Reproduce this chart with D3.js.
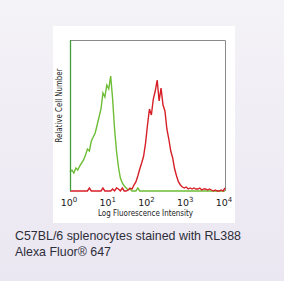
<!DOCTYPE html>
<html>
<head>
<meta charset="utf-8">
<script src="https://cdn.jsdelivr.net/npm/d3@7"></script>
<style>
  body { margin: 0; }
</style>
</head>
<body>
<script>
// histogram counts, one per channel, channels every 0.05 decade from 10^0 to 10^4
var greenCounts = [19,21,18,23,21,25,28,31,36,42,40,50,54,58,66,74,82,98,94,106,102,115,92,62,40,24,13,8,5,3,1,2,0,
  0,0,3,0,0,0,0,0,0,0,0,0,0,0,0,0,0,0,0,0,0,0,0,0,0,0,0,0,0,0,0,0,0,0,0,0,0,0,0,0,0,0,0,0,0,0,0,0];
var redCounts = [0,0,0,0,0,0,0,0,0,0,3,0,0,0,0,0,0,3,0,0,0,0,2,0,3,2,0,3,0,
  0,1,3,2,6,9,15,22,28,35,48,66,82,76,92,100,111,90,103,86,80,62,52,40,33,22,15,9,6,4,
  3,4,2,3,2,3,2,2,3,1,2,2,1,2,1,0,1,0,0,1,0,3];
var tickExponents = ["0", "1", "2", "3", "4"];
var xTitle = "Log Fluorescence Intensity";
var yTitle = "Relative Cell Number";
var captionLines = ["C57BL/6 splenocytes stained with RL388", "Alexa Fluor\u00ae 647"];

var W = 284, H = 281;
var margin = {top: 40, right: 59, bottom: 90, left: 70},
    width = W - margin.left - margin.right,
    height = H - margin.top - margin.bottom;

var channels = d3.range(greenCounts.length).map(function(i) { return Math.pow(10, i * 0.05); });

var x = d3.scaleLog().domain([1, 1e4]).range([0, width]);
var y = d3.scaleLinear().domain([0, 151]).range([height, 0]);

var svg = d3.select("body").append("svg")
    .attr("width", W)
    .attr("height", H);

var defs = svg.append("defs");
var grad = defs.append("linearGradient")
    .attr("id", "bg").attr("x1", 0).attr("y1", 0).attr("x2", 0).attr("y2", 1);
grad.append("stop").attr("offset", "0%").attr("stop-color", "#f4f3f7");
grad.append("stop").attr("offset", "100%").attr("stop-color", "#ebe7f2");

svg.append("rect").attr("width", W).attr("height", H).attr("fill", "url(#bg)");

// white panel behind the plot
svg.append("rect")
    .attr("x", 53).attr("y", 26)
    .attr("width", 182).attr("height", 197)
    .attr("fill", "#ffffff");

var main = svg.append("g")
    .attr("transform", "translate(" + margin.left + "," + margin.top + ")");

// frame: grey top/right
main.append("path")
    .attr("d", "M0,0.5H" + (width + 0.5) + "V" + height)
    .attr("fill", "none")
    .attr("stroke", "#8a8a8a")
    .attr("stroke-width", 1);

var line = d3.line()
    .x(function(d, i) { return x(channels[i]); })
    .y(function(d) { return y(d); });

main.append("path")
    .datum(greenCounts)
    .attr("d", line)
    .attr("fill", "none")
    .attr("stroke", "#6dbd35")
    .attr("stroke-width", 1.4);

main.append("path")
    .datum(redCounts)
    .attr("d", line)
    .attr("fill", "none")
    .attr("stroke", "#d61f27")
    .attr("stroke-width", 1.4);

// left axis line (green)
main.append("line")
    .attr("x1", 0.5).attr("x2", 0.5)
    .attr("y1", 0).attr("y2", height)
    .attr("stroke", "#3f9e3a")
    .attr("stroke-width", 1.3);

// x tick labels 10^n
var ticks = main.append("g").attr("transform", "translate(0," + (height + 15) + ")");
var tl = ticks.selectAll("text")
    .data(tickExponents)
    .enter().append("text")
    .attr("x", function(d) { return x(Math.pow(10, +d)) - 1; })
    .attr("text-anchor", "middle")
    .style("font-family", "DejaVu Sans, sans-serif")
    .style("font-size", "9.5px")
    .attr("fill", "#1a1a1a");
tl.append("tspan").text("10");
tl.append("tspan").attr("dy", -4).style("font-size", "7px").text(function(d) { return d; });

main.append("text")
    .attr("x", width / 2 - 2)
    .attr("y", height + 25)
    .attr("text-anchor", "middle")
    .attr("textLength", 95)
    .attr("lengthAdjust", "spacingAndGlyphs")
    .style("font-family", "DejaVu Sans, sans-serif")
    .style("font-size", "8.5px")
    .attr("fill", "#1a1a1a")
    .text(xTitle);

main.append("text")
    .attr("transform", "translate(-8," + (height / 2 - 10) + ") rotate(-90)")
    .attr("text-anchor", "middle")
    .attr("textLength", 74)
    .attr("lengthAdjust", "spacingAndGlyphs")
    .style("font-family", "DejaVu Sans, sans-serif")
    .style("font-size", "8.5px")
    .attr("fill", "#1a1a1a")
    .text(yTitle);

// caption
svg.selectAll(".caption")
    .data(captionLines)
    .enter().append("text")
    .attr("class", "caption")
    .attr("x", 15)
    .attr("y", function(d, i) { return 240 + i * 15.5; })
    .style("font-family", "Liberation Sans, Arial, sans-serif")
    .style("font-size", "12.4px")
    .attr("fill", "#2e2e3a")
    .text(function(d) { return d; });
</script>
</body>
</html>
